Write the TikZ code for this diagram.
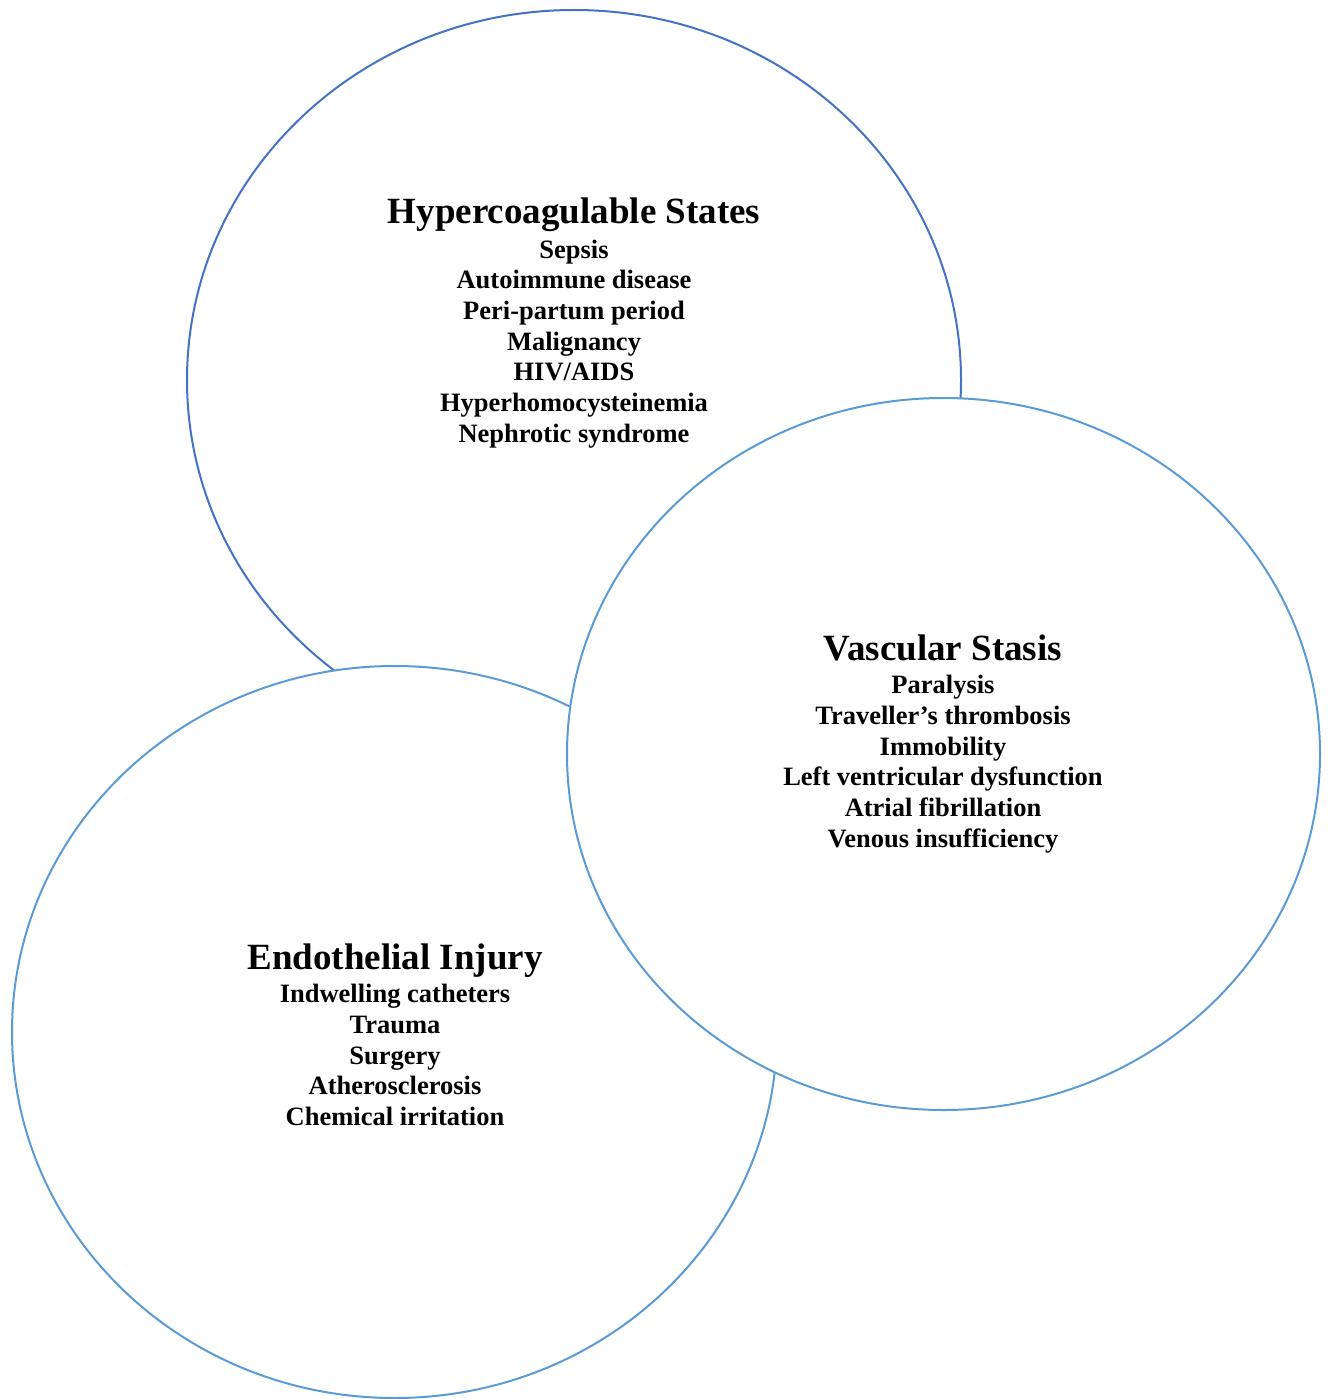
\documentclass[tikz,border=0pt]{standalone}
\usepackage{fontspec}
\setmainfont{Liberation Serif}
\usepackage{tikz}
\usetikzlibrary{shapes}
\usetikzlibrary{shapes.geometric}
\usetikzlibrary{positioning}
\definecolor{darkline}{HTML}{4472C4}
\definecolor{lightline}{HTML}{5B9BD5}

\begin{document}
\begin{tikzpicture}[x=1pt, y=-1pt,
  oval/.style={draw, ellipse, line width=2pt, inner sep=0pt, outer sep=0pt, fill=white},
  heading/.style={font=\fontsize{37}{40}\selectfont\bfseries, inner sep=0pt, anchor=base},
  causes/.style={font=\fontsize{26.5}{30.7}\selectfont\bfseries, align=center, inner sep=0pt}]
\useasboundingbox (0,0) rectangle (1327,1399);
\node[oval, draw=darkline, 
   minimum width=774pt, 
   minimum height=740pt] (hyper) at (574,380) {};
\node[oval, draw=lightline, 
   minimum width=765pt, 
   minimum height=732pt] (endo) at (394.5,1032) {};
\node[oval, draw=lightline, 
   minimum width=753pt, 
   minimum height=712pt] (stasis) at (943.5,754) {};

\node[heading] (hyperT) at (574,223) {Hypercoagulable States};
\node[causes, below=13.5pt of hyperT.base] (hyperL)
  {\strut Sepsis\\ Autoimmune disease\\ Peri-partum period\\ Malignancy\\ 
   HIV/AIDS\\ Hyperhomocysteinemia\\ Nephrotic syndrome};

\node[heading] (stasisT) at (943,660) {Vascular Stasis};
\node[causes, below=12pt of stasisT.base] (stasisL)
  {\strut Paralysis\\ Traveller’s thrombosis\\ Immobility\\ 
   Left ventricular dysfunction\\ Atrial fibrillation\\ Venous insufficiency};

\node[heading] (endoT) at (395,969) {Endothelial Injury};
\node[causes, below=12pt of endoT.base] (endoL)
  {\strut Indwelling catheters\\ Trauma\\ Surgery\\ Atherosclerosis\\ 
   Chemical irritation};
\end{tikzpicture}
\end{document}
